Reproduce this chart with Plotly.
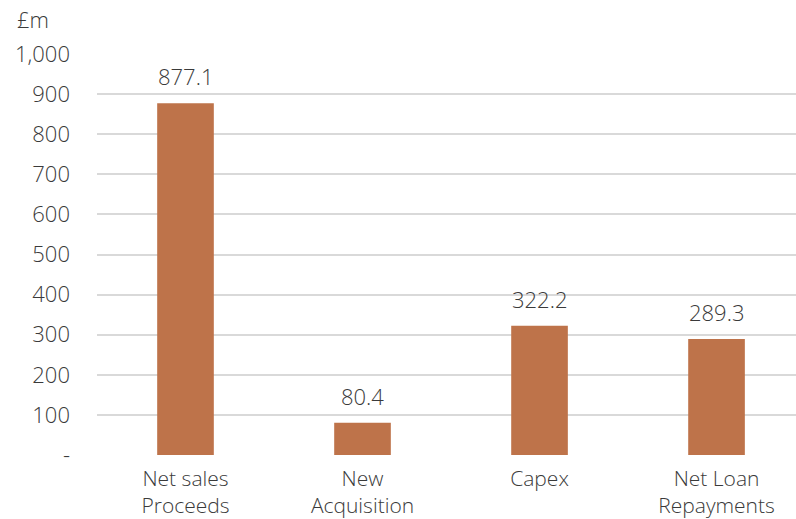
import plotly.graph_objects as go

# Uses of funds, £m
categories = ["Net sales<br>Proceeds", "New<br>Acquisition", "Capex", "Net Loan<br>Repayments"]
values = [877.1, 80.4, 322.2, 289.3]
tick_vals = [0, 100, 200, 300, 400, 500, 600, 700, 800, 900, 1000]
tick_text = ["-", "100", "200", "300", "400", "500", "600", "700", "800", "900", "1,000"]

bar_color = "#BE734A"
text_color = "#3a3a3a"
font_family = "'Open Sans', 'Noto Sans', sans-serif"
font_size = 22

x_pos = list(range(len(categories)))

fig = go.Figure(
    go.Bar(
        x=x_pos,
        y=values,
        marker=dict(color=bar_color, line=dict(width=0)),
        width=0.32,
        hoverinfo="skip",
    )
)

# value labels sit a little above each bar
annotations = [
    dict(
        x=xi,
        y=v,
        xref="x",
        yref="y",
        text=f"{v:.1f}",
        showarrow=False,
        xanchor="center",
        yanchor="bottom",
        yshift=10,
        font=dict(size=font_size, color=text_color, weight=300),
    )
    for xi, v in zip(x_pos, values)
]

annotations.append(
    dict(
        text="£m",
        xref="paper",
        yref="paper",
        x=-0.0916,
        y=1.087,
        xanchor="center",
        yanchor="middle",
        showarrow=False,
        font=dict(size=font_size, color=text_color, weight=300),
    )
)

fig.update_layout(
    width=796,
    height=519,
    margin=dict(l=97, r=0, t=54, b=64),
    paper_bgcolor="white",
    plot_bgcolor="white",
    showlegend=False,
    font=dict(family=font_family, size=font_size, color=text_color, weight=300),
    xaxis=dict(
        range=[-0.5, 3.449],
        tickmode="array",
        tickvals=x_pos,
        ticktext=categories,
        showgrid=False,
        zeroline=False,
        showline=False,
        ticks="",
        automargin=False,
        ticklabelstandoff=9,
        tickfont=dict(size=21, color=text_color, weight=300),
    ),
    yaxis=dict(
        range=[0, 1000],
        tickmode="array",
        tickvals=tick_vals,
        ticktext=tick_text,
        showgrid=True,
        gridcolor="#D9D9D9",
        gridwidth=1.5,
        zeroline=False,
        showline=False,
        ticks="",
        automargin=False,
        ticklabelstandoff=26,
        tickfont=dict(size=font_size, color=text_color, weight=300),
    ),
    annotations=annotations,
)

fig.write_html("out.html")
